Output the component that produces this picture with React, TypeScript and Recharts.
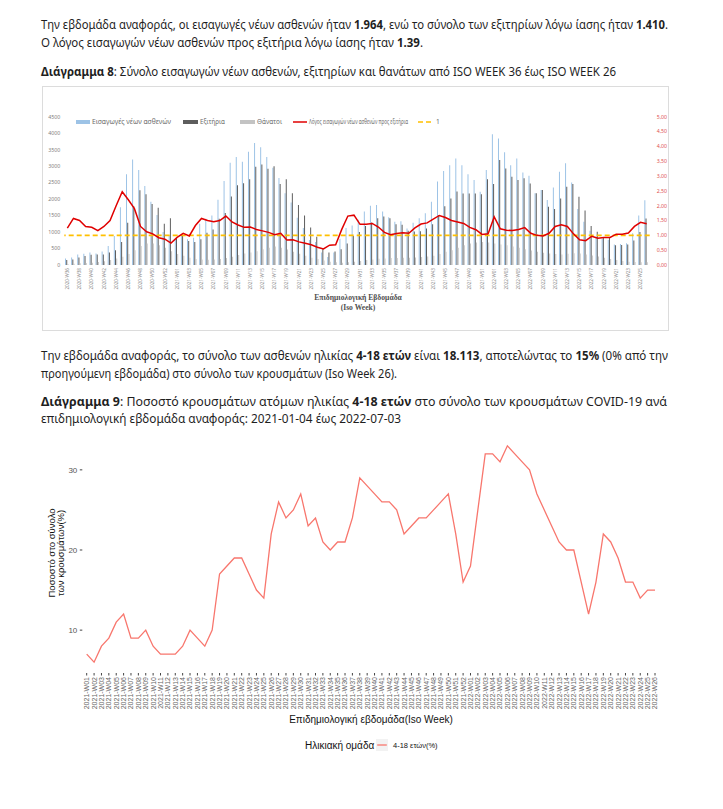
import React from 'react'
import { ComposedChart, LineChart, Bar, Line, XAxis, YAxis, ReferenceLine } from 'recharts'

// week labels
const isoWeeks = (year: number, from: number, to: number) => {
  const out: string[] = []
  for (let w = from; w <= to; w++) out.push(`${year}-W${String(w).padStart(2, '0')}`)
  return out
}

// Διάγραμμα 8: ISO WEEK 36 (2020) - ISO WEEK 26 (2022)
const weeks8 = [...isoWeeks(2020, 36, 53), ...isoWeeks(2021, 1, 52), ...isoWeeks(2022, 1, 26)]

const admissions = [
  200, 230, 320, 340, 380, 350, 410, 580, 880, 1750,
  2750, 3200, 2880, 2400, 1920, 1520, 1000, 900, 780, 880,
  780, 830, 1250, 1400, 1500, 1980, 2550, 3100, 3280, 3130,
  3440, 3700, 3570, 3280, 2950, 2640, 2180, 1900, 1430, 1120,
  760, 700, 380, 240, 380, 800, 1120, 1200, 1370, 1620,
  1800, 1820, 1620, 1450, 1310, 1330, 1110, 1280, 1415, 1570,
  1920, 2530, 2850, 3030, 3235, 3030, 2750, 2580, 2220, 2880,
  3970, 3840, 3420, 3030, 3235, 2810, 2710, 2175, 2275, 1970,
  2355, 2830, 3085, 2500, 1700, 1310, 1040, 860, 800, 760,
  620, 640, 660, 960, 1500, 1964,
]

const discharges = [
  150, 170, 230, 270, 310, 320, 320, 380, 450, 700,
  1280, 1780, 2270, 2150, 1850, 1740, 1250, 1420, 830, 880,
  730, 700, 780, 980, 1080, 1400, 1580, 2080, 2420, 2480,
  2600, 2980, 3050, 2920, 3000, 2460, 2600, 2180, 1820, 1500,
  1140, 860, 500, 380, 410, 480, 650, 880, 1000, 1180,
  1290, 1420, 1470, 1420, 1240, 1220, 1040, 1020, 1025, 1105,
  1240, 1520, 1780, 2020, 2230, 2170, 2170, 2170, 2150, 2600,
  2455, 3185, 2930, 2680, 2580, 2630, 2475, 2175, 2275, 1770,
  1700, 2020, 2375, 2455, 2070, 1650, 1180, 1010, 820, 820,
  600, 610, 620, 740, 1000, 1410,
]

const deaths = [
  30, 40, 50, 60, 70, 90, 110, 150, 200, 250,
  330, 450, 580, 650, 650, 600, 520, 420, 330, 280,
  220, 180, 170, 160, 170, 180, 210, 250, 300, 350,
  380, 420, 480, 520, 560, 520, 470, 400, 340, 280,
  220, 180, 140, 100, 80, 70, 80, 100, 120, 150,
  170, 190, 200, 210, 210, 220, 220, 230, 240, 260,
  280, 330, 400, 450, 520, 600, 650, 680, 700, 680,
  650, 620, 600, 560, 520, 480, 440, 400, 370, 350,
  330, 320, 340, 360, 350, 320, 290, 260, 220, 180,
  150, 120, 100, 90, 80, 80,
]

const ratio = [
  1.24, 1.57, 1.5, 1.3, 1.27, 1.16, 1.3, 1.5, 2.0, 2.47,
  2.2, 1.9, 1.3, 1.12, 1.05, 0.92, 0.87, 0.74, 0.93, 1.07,
  0.98, 1.33, 1.57, 1.5, 1.46, 1.5, 1.65, 1.45, 1.35, 1.27,
  1.28, 1.2, 1.15, 1.1, 1.02, 1.07, 0.84, 0.85, 0.78, 0.73,
  0.68, 0.6, 0.54, 0.67, 0.68, 1.2, 1.65, 1.68, 1.37, 1.37,
  1.4, 1.28, 1.1, 1.02, 1.06, 1.09, 1.07, 1.25, 1.38, 1.42,
  1.55, 1.67, 1.6, 1.5, 1.45, 1.4, 1.27, 1.19, 1.03, 1.05,
  1.62, 1.22, 1.17, 1.16, 1.2, 1.26, 1.07, 1.0, 0.98, 1.07,
  1.3, 1.36, 1.3, 1.05, 0.85, 0.82, 0.97, 0.9, 0.93, 0.93,
  1.04, 1.04, 1.08, 1.3, 1.44, 1.39,
]

const ONE_LINE = 1
const leftTicks = [0, 500, 1000, 1500, 2000, 2500, 3000, 3500, 4000, 4500]
const rightTicks = [0, 0.5, 1, 1.5, 2, 2.5, 3, 3.5, 4, 4.5, 5]

// Διάγραμμα 9: 2021-W01 - 2022-W26
const weeks9 = [...isoWeeks(2021, 1, 52), ...isoWeeks(2022, 1, 26)]
const pct4to18 = [
  7, 6, 8, 9, 11, 12, 9, 9, 10, 8,
  7, 7, 7, 8, 10, 9, 8, 10, 17, 18,
  19, 19, 17, 15, 14, 22, 26, 24, 25, 27,
  23, 24, 21, 20, 21, 21, 24, 29, 28, 27,
  26, 26, 25, 22, 23, 24, 24, 25, 26, 27,
  22, 16, 18, 25, 32, 32, 31, 33, 32, 31,
  30, 27, 25, 23, 21, 20, 20, 16, 12, 16,
  22, 21, 19, 16, 16, 14, 15, 15,
]
const pctTicks = [10, 20, 30]

const data8 = weeks8.map((week, i) => ({
  week,
  admissions: admissions[i],
  discharges: discharges[i],
  deaths: deaths[i],
  ratio: ratio[i],
}))
const data9 = weeks9.map((week, i) => ({ week, pct: pct4to18[i] }))

const VTick = (props: any) => {
  const { x, y, payload, size, color, family } = props
  return (
    <text
      transform={`translate(${x},${y}) rotate(-90)`}
      textAnchor="end"
      dy="0.35em"
      fontSize={size}
      fill={color}
      fontFamily={family}
    >
      {payload.value}
    </text>
  )
}

const TXT = '#1f1f1f'
const SANS = '"Noto Sans", sans-serif'
const GG = '"Liberation Sans", Arial, sans-serif'

export default function App() {
  return (
    <div style={{ position: 'absolute', left: 0, top: 0, width: 723, height: 809, background: '#fff', overflow: 'hidden' }}>
      {/* chart 8 frame */}
      <div style={{ position: 'absolute', left: 42, top: 85.5, width: 627, height: 245, border: '1px solid #dcdcdc', boxSizing: 'border-box' }} />
      <div style={{ position: 'absolute', left: 42, top: 85 }}>
        <ComposedChart
          width={629}
          height={245}
          data={data8}
          margin={{ top: 31.7, right: 2, left: 0, bottom: 0 }}
          barCategoryGap="12%"
          barGap={0.2}
        >
          <XAxis
            dataKey="week"
            height={65}
            interval={1}
            tickLine={false}
            axisLine={false}
            tickSize={0}
            tickMargin={3}
            tick={(p: any) => <VTick {...p} size={4.6} color="#8a8a8a" family={SANS} />}
          />
          <YAxis
            yAxisId="left"
            width={22.3}
            domain={[0, 4500]}
            ticks={leftTicks}
            allowDataOverflow
            tickLine={false}
            axisLine={false}
            tickSize={0}
            tickMargin={4}
            tick={{ fontSize: 5.3, fill: '#7f7f7f', fontFamily: SANS }}
          />
          <YAxis
            yAxisId="right"
            orientation="right"
            width={19.3}
            domain={[0, 5]}
            ticks={rightTicks}
            allowDataOverflow
            tickLine={false}
            axisLine={false}
            tickSize={0}
            tickMargin={7}
            tickFormatter={(v: number) => v.toFixed(2).replace('.', ',')}
            tick={{ fontSize: 5.2, fill: '#e05050', fontFamily: SANS }}
          />
          <Bar yAxisId="left" dataKey="admissions" fill="#9dc3e6" isAnimationActive={false} />
          <Bar yAxisId="left" dataKey="discharges" fill="#5d5d5d" isAnimationActive={false} />
          <Bar yAxisId="left" dataKey="deaths" fill="#c3c3c3" isAnimationActive={false} />
          <ReferenceLine yAxisId="right" y={ONE_LINE} stroke="#ffc000" strokeWidth={1.6} strokeDasharray="5 3" />
          <Line
            yAxisId="right"
            type="linear"
            dataKey="ratio"
            stroke="#e00000"
            strokeWidth={1.5}
            dot={false}
            isAnimationActive={false}
          />
        </ComposedChart>
      </div>

      {/* chart 9 */}
      <div style={{ position: 'absolute', left: 0, top: 420 }}>
        <LineChart width={723} height={300} data={data9} margin={{ top: 15, right: 63.6, left: 0, bottom: 0 }}>
          <XAxis
            dataKey="week"
            scale="point"
            padding={{ left: 4.4, right: 4.4 }}
            height={47}
            interval={0}
            axisLine={false}
            tickSize={2.5}
            tickMargin={1.5}
            tickLine={{ stroke: '#444' }}
            tick={(p: any) => <VTick {...p} size={7} color="#666" family={GG} />}
          />
          <YAxis
            width={82.3}
            domain={[4.65, 34.35]}
            ticks={pctTicks}
            allowDataOverflow
            axisLine={false}
            tickSize={2.5}
            tickMargin={2.5}
            tickLine={{ stroke: '#444' }}
            tick={{ fontSize: 8, fill: '#555', fontFamily: GG }}
          />
          <Line type="linear" dataKey="pct" stroke="#f8766d" strokeWidth={1.3} dot={false} isAnimationActive={false} />
        </LineChart>
      </div>

      {/* texts */}
      <svg width={723} height={809} style={{ position: 'absolute', left: 0, top: 0, pointerEvents: 'none' }}>
        <g fontFamily={SANS} fontSize={12} fill={TXT}>
          <text x={41} y={29} textLength={627} lengthAdjust="spacingAndGlyphs">
            Την εβδομάδα αναφοράς, οι εισαγωγές νέων ασθενών ήταν <tspan fontWeight="bold">1.964</tspan>, ενώ το σύνολο των εξιτηρίων λόγω ίασης ήταν <tspan fontWeight="bold">1.410</tspan>.
          </text>
          <text x={41} y={47} textLength={382} lengthAdjust="spacingAndGlyphs">
            Ο λόγος εισαγωγών νέων ασθενών προς εξιτήρια λόγω ίασης ήταν <tspan fontWeight="bold">1.39</tspan>.
          </text>
          <text x={41} y={76} textLength={575} lengthAdjust="spacingAndGlyphs">
            <tspan fontWeight="bold">Διάγραμμα 8</tspan>: Σύνολο εισαγωγών νέων ασθενών, εξιτηρίων και θανάτων από ISO WEEK 36 έως ISO WEEK 26
          </text>
          <text x={41} y={360} textLength={627} lengthAdjust="spacingAndGlyphs">
            Την εβδομάδα αναφοράς, το σύνολο των ασθενών ηλικίας <tspan fontWeight="bold">4-18 ετών</tspan> είναι <tspan fontWeight="bold">18.113</tspan>, αποτελώντας το <tspan fontWeight="bold">15%</tspan> (0% από την
          </text>
          <text x={41} y={377.5} textLength={356} lengthAdjust="spacingAndGlyphs">
            προηγούμενη εβδομάδα) στο σύνολο των κρουσμάτων (Iso Week 26).
          </text>
          <text x={41} y={405.5} textLength={626} lengthAdjust="spacingAndGlyphs">
            <tspan fontWeight="bold">Διάγραμμα 9</tspan>:  Ποσοστό κρουσμάτων ατόμων ηλικίας <tspan fontWeight="bold">4-18 ετών</tspan> στο σύνολο των κρουσμάτων COVID-19 ανά
          </text>
          <text x={41} y={423} textLength={360} lengthAdjust="spacingAndGlyphs">
            επιδημιολογική εβδομάδα αναφοράς: 2021-01-04 έως 2022-07-03
          </text>
        </g>

        {/* chart 8 legend */}
        <g fontFamily={SANS} fontSize={6.5} fill="#6b6b6b">
          <rect x={76} y={120} width={14} height={4} fill="#9dc3e6" />
          <text x={92} y={124.2} textLength={79} lengthAdjust="spacingAndGlyphs">Εισαγωγές νέων ασθενών</text>
          <rect x={183} y={120} width={15} height={4} fill="#5d5d5d" />
          <text x={200} y={124.2} textLength={25} lengthAdjust="spacingAndGlyphs">Εξιτήρια</text>
          <rect x={240} y={120} width={15} height={4} fill="#c3c3c3" />
          <text x={257} y={124.2} textLength={25} lengthAdjust="spacingAndGlyphs">Θάνατοι</text>
          <line x1={293} x2={307} y1={122} y2={122} stroke="#e00000" strokeWidth={1.5} />
          <text x={309} y={124.2} textLength={99} lengthAdjust="spacingAndGlyphs">Λόγος εισαγωγών νέων ασθενών προς εξιτήρια</text>
          <line x1={418} x2={434} y1={122} y2={122} stroke="#ffc000" strokeWidth={1.6} strokeDasharray="5 3" />
          <text x={436} y={124.2}>1</text>
        </g>
        <g fontFamily='"Liberation Serif", serif' fontWeight="bold" fontSize={7.6} fill="#505050" textAnchor="middle">
          <text x={358} y={299.5}>Επιδημιολογική Εβδομάδα</text>
          <text x={358} y={309.5}>(Iso Week)</text>
        </g>

        {/* chart 9 titles & legend */}
        <g fontFamily={GG} fill="#111">
          <g transform="translate(0,553) rotate(-90)" fontSize={9.5} textAnchor="middle">
            <text x={0} y={55}>Ποσοστό στο σύνολο</text>
            <text x={0} y={64}>των κρουσμάτων(%)</text>
          </g>
          <text x={371} y={722.5} fontSize={10} textAnchor="middle">Επιδημιολογική εβδομάδα(Iso Week)</text>
          <text x={305} y={748.5} fontSize={10}>Ηλικιακή ομάδα</text>
          <rect x={376} y={739} width={12} height={12} fill="#f2f2f2" />
          <line x1={377.2} x2={386.8} y1={745} y2={745} stroke="#f8766d" strokeWidth={1.3} />
          <text x={393} y={748} fontSize={7.5}>4-18 ετών(%)</text>
        </g>
      </svg>
    </div>
  )
}
